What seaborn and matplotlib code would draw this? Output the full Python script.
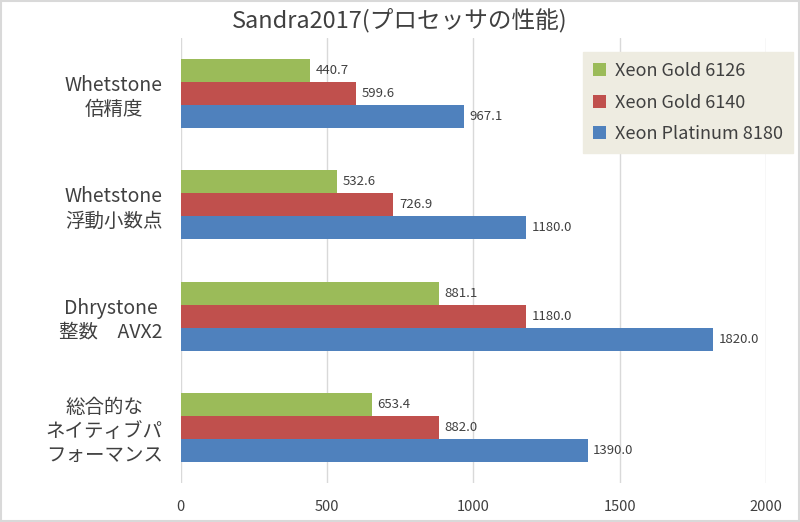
import pandas as pd
import seaborn as sns
import matplotlib.pyplot as plt

# data
categories = ['Whetstone\n倍精度', 'Whetstone\n浮動小数点', 'Dhrystone\n整数　AVX2',
              '総合的な\nネイティブパ\nフォーマンス']
series = ['Xeon Gold 6126', 'Xeon Gold 6140', 'Xeon Platinum 8180']
gold_6126 = [440.7, 532.6, 881.1, 653.4]
gold_6140 = [599.6, 726.9, 1180.0, 882.0]
platinum_8180 = [967.1, 1180.0, 1820.0, 1390.0]
colors = ['#9BBB59', '#C0504D', '#4F81BD']

df = pd.DataFrame({
    'category': categories * 3,
    'cpu': [s for s in series for _ in categories],
    'score': gold_6126 + gold_6140 + platinum_8180,
})

sns.set_style('white')
plt.rcParams['font.family'] = ['Noto Sans CJK JP', 'DejaVu Sans']

fig = plt.figure(figsize=(8, 5.22), dpi=100)
ax = fig.add_axes([0.226, 0.0747, 0.7315, 0.8523])

sns.barplot(data=df, y='category', x='score', hue='cpu', order=categories,
            hue_order=series, palette=colors, orient='h', width=0.62,
            saturation=1, linewidth=0, ax=ax)

# value labels
for cont in ax.containers:
    ax.bar_label(cont, fmt='%.1f', padding=4, fontsize=9.5, color='#404040')

ax.set_xlim(0, 2000)
ax.set_xticks([0, 500, 1000, 1500, 2000])
ax.grid(axis='x', color='#d9d9d9', linewidth=1)
ax.set_axisbelow(True)
for sp in ax.spines.values():
    sp.set_visible(False)
ax.tick_params(axis='x', length=0, pad=12, labelsize=10.5, labelcolor='#404040')
ax.tick_params(axis='y', length=0, pad=13, labelsize=14, labelcolor='#404040')
for lbl in ax.get_yticklabels():
    lbl.set_multialignment('center')
ax.set_xlabel('')
ax.set_ylabel('')

fig.suptitle('Sandra2017(プロセッサの性能)', x=0.5, y=0.985, fontsize=17, color='#404040')

leg = ax.legend(loc='upper right', bbox_to_anchor=(1.046, 0.9685), borderaxespad=0,
                fontsize=13, frameon=True, fancybox=False, handlelength=0.7,
                handleheight=0.7, labelspacing=0.75, borderpad=0.55, handletextpad=0.5,
                labelcolor='#404040')
leg.get_frame().set_facecolor('#EEECE1')
leg.get_frame().set_edgecolor('#EEECE1')
leg.get_frame().set_alpha(1)

# light grey outer border
fig.patches.append(plt.Rectangle((0.001, 0.001), 0.998, 0.997, transform=fig.transFigure,
                                 fill=False, edgecolor='#d9d9d9', linewidth=1.5))

fig.savefig('out.png', dpi=100)
